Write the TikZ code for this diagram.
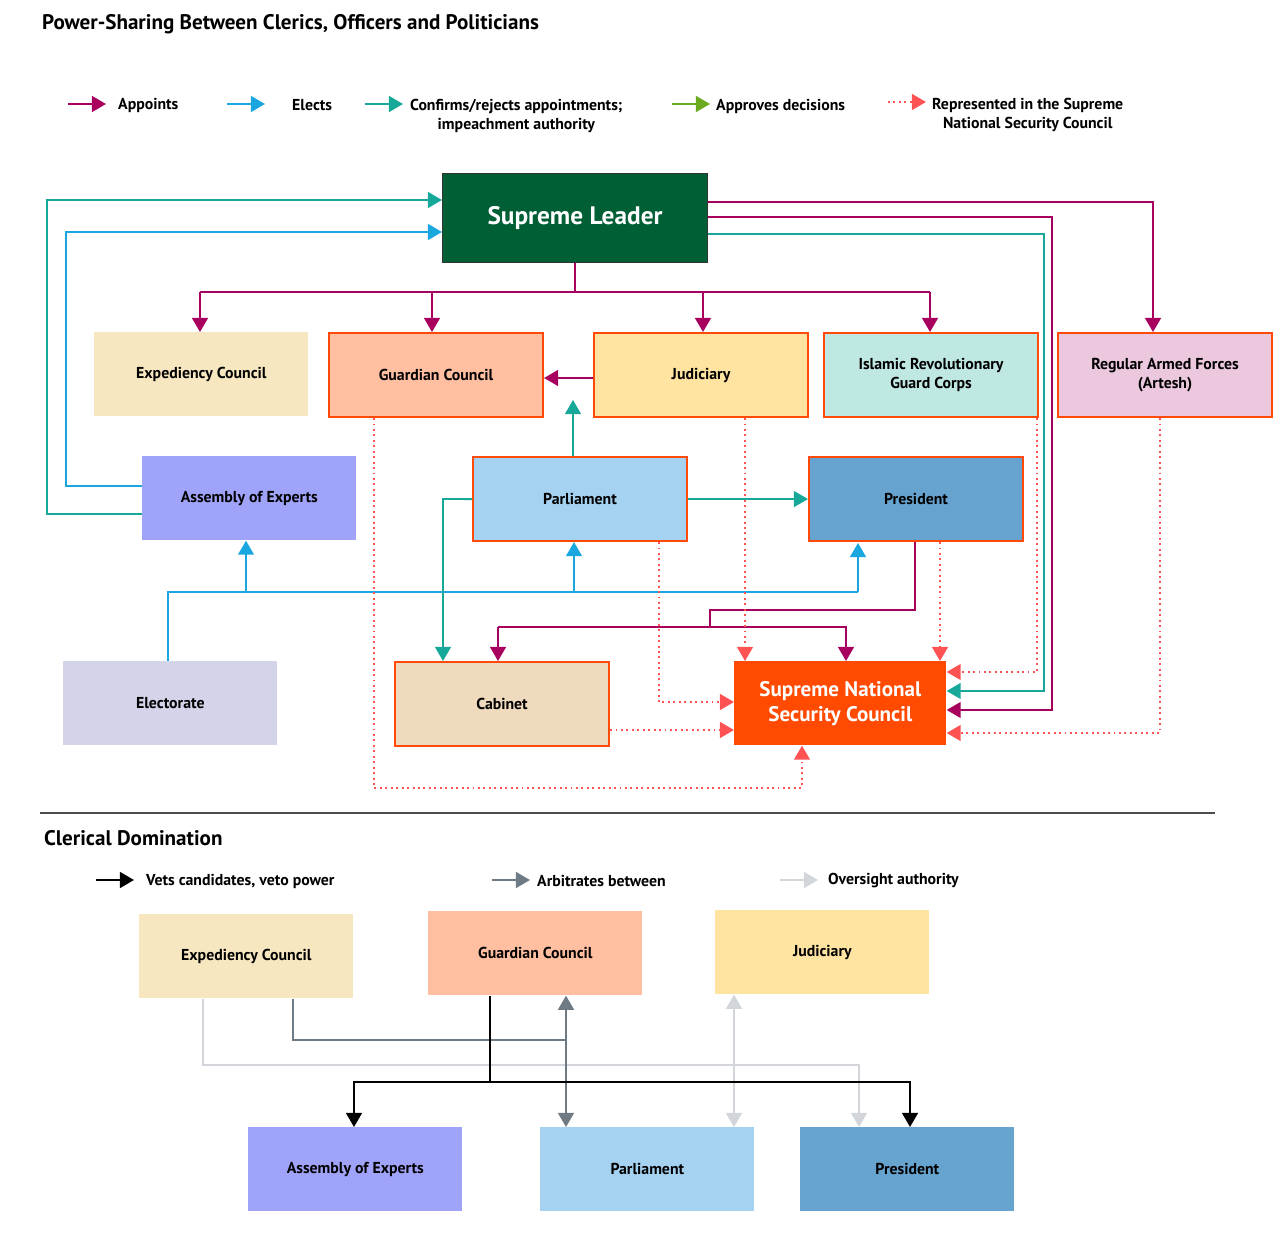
\documentclass[tikz,border=0pt]{standalone}
\usepackage{fontspec}
\setmainfont{PT Sans}
\usepackage{xcolor}
\usetikzlibrary{arrows.meta, positioning}

\definecolor{slgreen}{HTML}{005F35}
\definecolor{rim}{HTML}{FF4A0A}
\definecolor{appcol}{HTML}{A8005E}
\definecolor{elecol}{HTML}{1AA7E0}
\definecolor{concol}{HTML}{17A89A}
\definecolor{aprcol}{HTML}{6AAA1E}
\definecolor{repcol}{HTML}{FF5252}
\definecolor{arbcol}{HTML}{6E7B85}
\definecolor{ovcol}{HTML}{D2D6DA}
\definecolor{expfill}{HTML}{F7E7C1}
\definecolor{gcfill}{HTML}{FFBFA0}
\definecolor{judfill}{HTML}{FFE3A0}
\definecolor{irgcfill}{HTML}{BFE8E3}
\definecolor{raffill}{HTML}{EBC8DE}
\definecolor{aoefill}{HTML}{A0A3FA}
\definecolor{parlfill}{HTML}{A6D2F2}
\definecolor{presfill}{HTML}{66A3CF}
\definecolor{elecfill}{HTML}{D3D4EA}
\definecolor{cabfill}{HTML}{EFDABE}
\definecolor{snscfill}{HTML}{FF4A00}

\begin{document}
\begin{tikzpicture}[
  x=0.02cm, y=-0.02cm,
  box/.style={
    rectangle,
    fill=#1,
    minimum width=4.28cm,
    minimum height=1.68cm,
    inner sep=2pt,
    font=\bfseries\small,
    align=center,
    anchor=north west
  },
  body/.style={
    box=#1,
    draw=rim,
    line width=1.2pt
  },
  tip/.style={-{Triangle[width=9pt,length=8pt]}},
  appoints/.style={tip, line width=1.1pt, draw=appcol, appcol},
  elects/.style={tip, line width=1.1pt, draw=elecol, elecol},
  confirms/.style={tip, line width=1.1pt, draw=concol, concol},
  approves/.style={tip, line width=1.1pt, draw=aprcol, aprcol},
  repr/.style={tip, line width=1.1pt, draw=repcol, repcol, dotted},
  vets/.style={tip, line width=1.1pt, draw=black},
  arbit/.style={tip, line width=1.1pt, draw=arbcol, arbcol},
  oversee/.style={tip, line width=1.1pt, draw=ovcol, ovcol},
  legend/.style={font=\bfseries\small, anchor=west, align=center}
]
\useasboundingbox (0,0) rectangle (1280,1236);

% Titles
\node[font=\bfseries\large, anchor=west] (title) at (36,24) {Power-Sharing Between Clerics, Officers and Politicians};
\node[font=\bfseries\large, anchor=west] (title2) at (38,838) {Clerical Domination};
\draw[black!70, line width=0.6pt] (40,813) -- (1215,813);

% Legend
\coordinate (la1) at (68,104); \coordinate (la2) at (106,104);
\draw[appoints] (la1) -- (la2);
\node[legend] (lapp) at (112,105) {Appoints};
\coordinate (le1) at (227,104); \coordinate (le2) at (265,104);
\draw[elects] (le1) -- (le2);
\node[legend] (lele) at (286,105) {Elects};
\coordinate (lc1) at (365,104); \coordinate (lc2) at (403,104);
\draw[confirms] (lc1) -- (lc2);
\node[legend] (lcon) at (404,116) {Confirms/rejects appointments;\\impeachment authority};
\coordinate (lp1) at (672,104); \coordinate (lp2) at (710,104);
\draw[approves] (lp1) -- (lp2);
\node[legend] (lapr) at (710,106) {Approves decisions};
\coordinate (lr1) at (888,102); \coordinate (lr2) at (926,102);
\draw[repr] (lr1) -- (lr2);
\node[legend] (lrep) at (926,115) {Represented in the Supreme\\National Security Council};

% Top diagram
\node[box=slgreen, draw=black!80, line width=0.6pt, minimum width=5.3cm, minimum height=1.78cm,
      text=white, font=\bfseries\Large] (sl) at (442,173) {Supreme Leader};
\node[box=expfill] (exp) at (94,332) {Expediency Council};
\node[body=gcfill] (gc) at (328,332) {Guardian Council};
\node[body=judfill] (jud) at (593,332) {Judiciary};
\node[body=irgcfill] (irgc) at (823,332) {Islamic Revolutionary\\Guard Corps};
\node[body=raffill] (raf) at (1057,332) {Regular Armed Forces\\(Artesh)};
\node[box=aoefill] (aoe) at (142,456) {Assembly of Experts};
\node[body=parlfill] (parl) at (472,456) {Parliament};
\node[body=presfill] (pres) at (808,456) {President};
\node[box=elecfill] (elec) at (63,661) {Electorate};
\node[body=cabfill] (cab) at (394,661) {Cabinet};
\node[box=snscfill, minimum width=4.24cm, text=white, font=\bfseries\large] (snsc) at (734,661) {Supreme National\\Security Council};

% Appoints
\draw[appoints, -] (sl.south) -- ++(0,30) coordinate (sj);
\draw[appoints, -] (200,292) -- (930,292);
\draw[appoints] (200,292) -- (exp.north -| 200,0);
\draw[appoints] (432,292) -- (gc.north -| 432,0);
\draw[appoints] (703,292) -- (jud.north -| 703,0);
\draw[appoints] (930,292) -- (irgc.north -| 930,0);
\draw[appoints] (sl.east |- 0,202) -| (raf.north -| 1153,0);
\draw[appoints] (sl.east |- 0,217) -- (1052,217) |- (snsc.east |- 0,710);
\draw[appoints] (jud.west |- 0,378) -- (gc.east |- 0,378);
\draw[appoints, -] (pres.south -| 915,0) -- (915,610) -- (710,610) -- (710,627);
\draw[appoints] (498,627) -- (846,627) -- (snsc.north -| 846,0);
\draw[appoints] (498,627) -- (cab.north -| 498,0);

% Elects
\draw[elects] (aoe.west |- 0,486) -- (66,486) |- (sl.west |- 0,232);
\draw[elects, -] (elec.north -| 168,0) |- (858,592);
\draw[elects] (246,592) -- (aoe.south -| 246,0);
\draw[elects] (574,592) -- (parl.south -| 574,0);
\draw[elects] (858,592) -- (858,543);

% Confirms / rejects
\draw[confirms] (aoe.west |- 0,514) -- (47,514) |- (sl.west |- 0,200);
\coordinate (gap) at (573,400);
\draw[confirms] (parl.north -| 573,0) -- (gap);
\draw[confirms] (parl.east) -- (pres.west);
\draw[confirms] (parl.west) -- (443,499) -- (cab.north -| 443,0);
\draw[confirms] (sl.east |- 0,234) -- (1044,234) |- (snsc.east |- 0,691);

% Represented in the SNSC
\draw[repr] (gc.south -| 374,0) |- (802,788) -- (snsc.south -| 802,0);
\draw[repr] (jud.south -| 745,0) -- (snsc.north -| 745,0);
\draw[repr] (irgc.south -| 1037,0) |- (snsc.east |- 0,672);
\draw[repr] (raf.south -| 1160,0) |- (snsc.east |- 0,733);
\draw[repr] (parl.south -| 659,0) |- (snsc.west |- 0,702);
\draw[repr] (cab.east |- 0,730) -- (snsc.west |- 0,730);
\draw[repr] (pres.south -| 940,0) -- (snsc.north -| 940,0);

% Bottom legend
\coordinate (lv1) at (96,880); \coordinate (lv2) at (134,880);
\draw[vets] (lv1) -- (lv2);
\node[legend] (lvet) at (140,881) {Vets candidates, veto power};
\coordinate (lb1) at (492,880); \coordinate (lb2) at (530,880);
\draw[arbit] (lb1) -- (lb2);
\node[legend] (larb) at (531,881) {Arbitrates between};
\coordinate (lo1) at (780,880); \coordinate (lo2) at (818,880);
\draw[oversee] (lo1) -- (lo2);
\node[legend] (lov) at (822,881) {Oversight authority};

% Bottom diagram
\node[box=expfill] (expb) at (139,914) {Expediency Council};
\node[box=gcfill] (gcb) at (428,911) {Guardian Council};
\node[box=judfill] (judb) at (715,910) {Judiciary};
\node[box=aoefill] (aoeb) at (248,1127) {Assembly of Experts};
\node[box=parlfill] (parlb) at (540,1127) {Parliament};
\node[box=presfill] (presb) at (800,1127) {President};

% Oversight
\draw[oversee] (expb.south -| 203,0) -- (203,1065) -- (859,1065) -- (presb.north -| 859,0);
\draw[oversee, {Triangle[width=9pt,length=8pt]}-{Triangle[width=9pt,length=8pt]}] (judb.south -| 734,0) -- (parlb.north -| 734,0);
% Arbitrates
\draw[arbit, -] (expb.south -| 293,0) |- (566,1040);
\draw[arbit, {Triangle[width=9pt,length=8pt]}-{Triangle[width=9pt,length=8pt]}] (gcb.south -| 566,0) -- (parlb.north -| 566,0);
% Vets
\draw[vets, -] (gcb.south -| 490,0) -- (490,1082);
\draw[vets] (490,1082) -- (354,1082) -- (aoeb.north -| 354,0);
\draw[vets] (490,1082) -- (910,1082) -- (presb.north -| 910,0);
\end{tikzpicture}
\end{document}
